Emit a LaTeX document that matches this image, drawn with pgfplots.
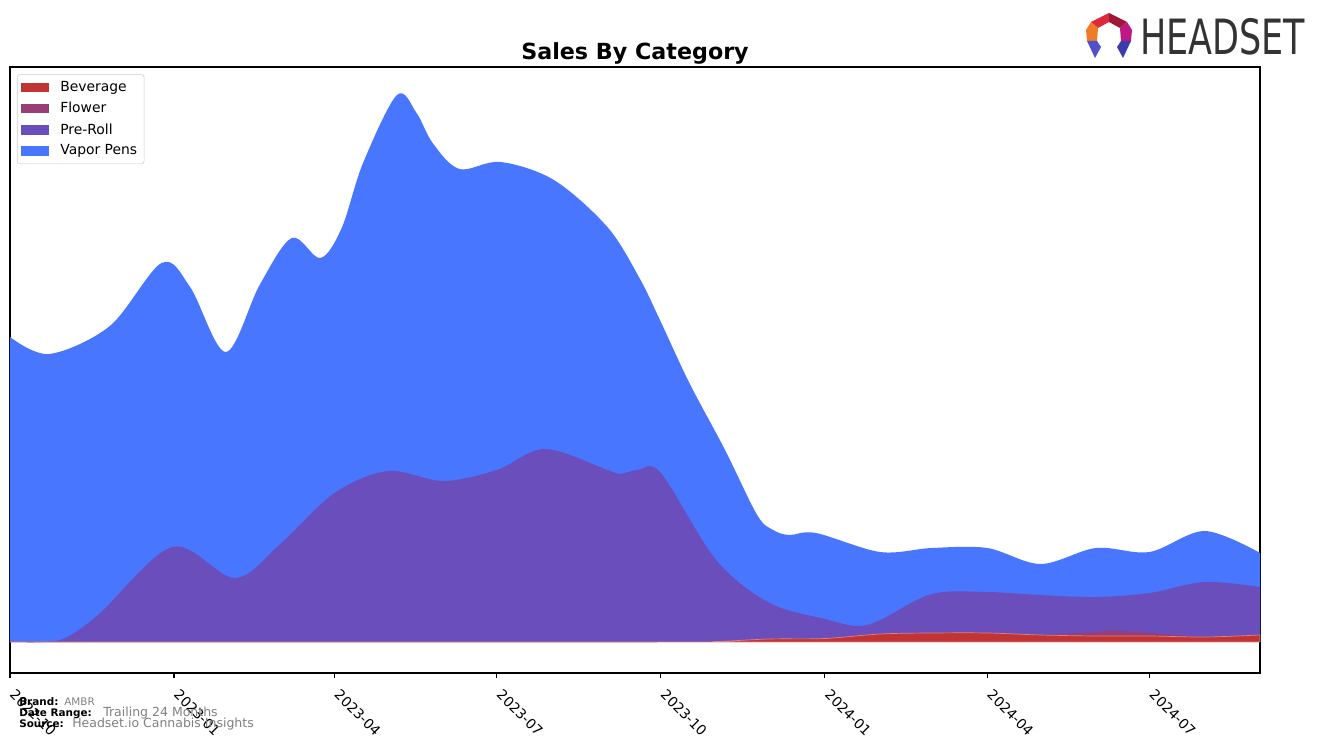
\documentclass[border=0pt]{standalone}
\usepackage{pgfplots}
\pgfplotsset{compat=1.18}
\usepackage{fontspec}
\setmainfont{DejaVu Sans}
\definecolor{bev}{HTML}{C23434}
\definecolor{flo}{HTML}{993D77}
\definecolor{pre}{HTML}{6A4EBC}
\definecolor{vap}{HTML}{4876FF}
\begin{document}
\begin{tikzpicture}
\path[use as bounding box] (0,0) rectangle (953.28pt,534.96pt);
\begin{axis}[
  at={(7.2pt,50.4pt)}, anchor=south west,
  scale only axis, width=900pt, height=436.32pt,
  xmin=0, xmax=701, ymin=-31, ymax=575,
  ytick=\empty,
  xtick={0,92,182,273,365,457,548,639},
  xticklabels={2022-10,2023-01,2023-04,2023-07,2023-10,2024-01,2024-04,2024-07},
  xtick pos=bottom, tick align=outside, major tick length=3.5pt,
  xticklabel style={rotate=-45, anchor=north west, font=\fontsize{10}{12}\selectfont, inner sep=1pt, xshift=7.5pt, yshift=-1pt},
  axis line style={line width=0.8pt},
  tick style={black, line width=0.8pt},
  reverse legend,
  legend style={at={(0.0056,0.988)}, anchor=north west, draw=black!20, rounded corners=2pt,
    font=\fontsize{10}{12}\selectfont, row sep=2.2pt, inner xsep=3pt, inner ysep=3pt},
  legend cell align=left,
  legend image code/.code={\fill[#1, draw=none, sharp corners] (0pt,-3.5pt) rectangle (20pt,3.5pt); \path[draw=none, fill=none] (0pt,0pt) -- (26pt,0pt);},
  every axis plot/.append style={tension=0.55},
]
\addplot[fill=vap, draw=none, smooth] coordinates {
(0,305) (22,288) (56,316) (85,379) (101,355) (121,290) (140,357) (158,404) (174,384) (186,414) (198,479) (217,547) (228,529) (237,499) (252,473) (275,480) (305,462) (335,415) (353,364) (365,320) (381,259) (401,192) (419,127) (428,112) (437,107) (452,109) (488,90) (517,94) (548,94) (578,78) (609,94) (639,90) (670,111) (701,89)
} \closedcycle;
\addlegendentry{Vapor Pens}
\addplot[fill=pre, draw=none, smooth] coordinates {
(0,0) (18,0) (31,4) (50,28) (91,95) (126,64) (151,97) (182,149) (212,171) (243,161) (273,172) (300,193) (335,172) (342,168) (352,172) (365,169) (396,82) (426,39) (457,23) (475,16) (488,22) (517,48) (548,50) (578,47) (609,45) (639,49) (670,60) (701,55)
} \closedcycle;
\addlegendentry{Pre-Roll}
\addplot[fill=flo, draw=none, smooth] coordinates {
(0,0) (365,0) (396,0.5) (426,3) (457,3.5) (488,8) (517,9) (548,9) (578,7) (609,10) (618,11) (639,9) (670,5) (701,7)
} \closedcycle;
\addlegendentry{Flower}
\addplot[fill=bev, draw=bev!60!white, line width=0.5pt, smooth] coordinates {
(0,0) (365,0) (396,0.5) (426,3) (457,3.5) (488,8) (517,9) (548,9) (578,7) (609,6) (639,6) (670,5) (701,7)
} \closedcycle;
\addlegendentry{Beverage}
\end{axis}
\begin{scope}[yshift=534.96pt, x=0.72pt, y=-0.72pt]
\node[font=\bfseries\fontsize{16}{19}\selectfont] at (635,53) {Sales By Category};
% logo
\fill[fill={rgb,255:red,224;green,40;blue,60}] (1091,22) -- (1109,13) -- (1109,22) -- (1098,28) -- cycle;
\fill[fill={rgb,255:red,160;green,24;blue,56}] (1109,13) -- (1127,22) -- (1120,28) -- (1109,22) -- cycle;
\fill[fill={rgb,255:red,240;green,122;blue,40}] (1091,22) -- (1098,28) -- (1097,41) -- (1087,41) -- (1086,30) -- cycle;
\fill[fill={rgb,255:red,190;green,24;blue,130}] (1127,22) -- (1132,30) -- (1131,41) -- (1121,41) -- (1120,28) -- cycle;
\fill[fill={rgb,255:red,80;green,80;blue,200}] (1087,41) -- (1097,41) -- (1101,47) -- (1095,58) -- cycle;
\fill[fill={rgb,255:red,60;green,60;blue,170}] (1121,41) -- (1131,41) -- (1123,58) -- (1117,47) -- cycle;
\node[anchor=west, text={rgb,255:red,51;green,51;blue,51}, font=\fontsize{35}{35}\selectfont, xscale=0.72, inner sep=0pt] at (1140,37) {HEADSET};
% footer
\node[anchor=base west, inner sep=0pt, font=\bfseries\fontsize{7.5}{8}\selectfont] at (19,706) {Brand:};
\node[anchor=base west, inner sep=0pt, text=gray, font=\fontsize{7.5}{8}\selectfont] at (64,706) {AMBR};
\node[anchor=base west, inner sep=0pt, font=\bfseries\fontsize{7.5}{8}\selectfont] at (19,717) {Date Range:};
\node[anchor=base west, inner sep=0pt, text=gray, font=\fontsize{9}{10}\selectfont] at (103,717) {Trailing 24 Months};
\node[anchor=base west, inner sep=0pt, font=\bfseries\fontsize{7.5}{8}\selectfont] at (19,728) {Source:};
\node[anchor=base west, inner sep=0pt, text=gray, font=\fontsize{9}{10}\selectfont] at (72,728) {Headset.io Cannabis Insights};
\end{scope}
\end{tikzpicture}
\end{document}
